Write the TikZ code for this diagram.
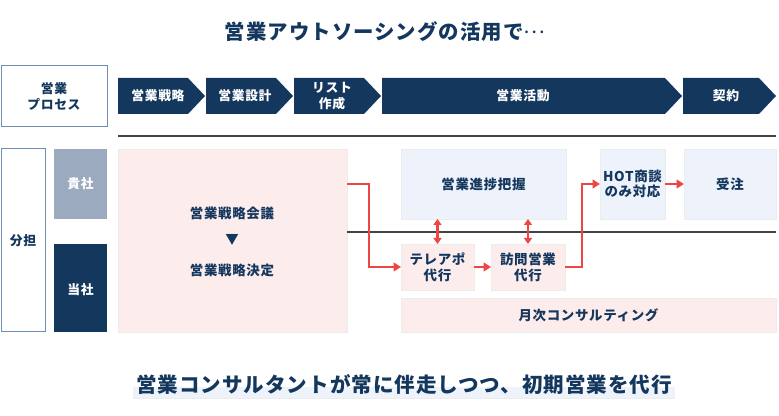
\documentclass[tikz,border=0pt]{standalone}
\usepackage{fontspec}
\setmainfont{Noto Sans CJK JP}[LetterSpace=5]
\usetikzlibrary{arrows.meta}
\definecolor{navy}{HTML}{14375E}
\definecolor{slate}{HTML}{9BAABF}
\definecolor{edgeblue}{HTML}{6F8FB0}
\definecolor{pinkbox}{HTML}{FDECEC}
\definecolor{bluebox}{HTML}{EDF2FB}
\definecolor{redline}{HTML}{EE4545}
\definecolor{rulegrey}{HTML}{444444}
\definecolor{softedge}{HTML}{ECECEC}
\newcommand\boxat[7]{\node[#1,minimum width=#4*0.75pt-#2*0.75pt,minimum height=#5*0.75pt-#3*0.75pt] (#6) at ({(#2+#4)/2},{(#3+#5)/2}) {#7};}
\newcommand\chev[5]{\fill[navy] (#2,78) -- ({#3-17},78) -- (#3,96) -- ({#3-17},114) -- (#2,114) -- cycle;
  \node[chevtext] (#1) at (#4,96) {#5};}
\tikzset{
  base/.style={inner sep=0pt,outer sep=0pt,align=center,font=\bfseries\fontsize{9.6}{11.6}\selectfont,text=navy},
  larger/.style={base,font=\bfseries\fontsize{10.1}{11.8}\selectfont},
  outlined/.style={base,draw=edgeblue,line width=0.75pt,fill=white},
  chevtext/.style={base,text=white},
  slatebox/.style={base,fill=slate,text=white},
  navybox/.style={base,fill=navy,text=white},
  pinkfill/.style={larger,fill=pinkbox,draw=softedge,line width=0.3pt},
  bluefill/.style={larger,fill=bluebox,draw=softedge,line width=0.3pt},
  headline/.style={inner sep=0pt,font=\bfseries\fontsize{15.3}{18}\selectfont,text=navy},
  rulerline/.style={draw=rulegrey,line width=1pt},
  flow/.style={draw=redline,line width=1.9pt,-{Triangle[length=5.5pt,width=6.5pt]}},
  bothways/.style={draw=redline,line width=1.6pt,{Triangle[length=4.5pt,width=6pt]}-{Triangle[length=4.5pt,width=6pt]}},
}
\begin{document}
\begin{tikzpicture}[x=0.75pt,y=-0.75pt]
\useasboundingbox (0,0) rectangle (779,416);
\node[headline] (title) at (385,32) {営業アウトソーシングの活用で\raisebox{0.32em}{\mdseries …}};
\boxat{outlined}{1}{66}{107}{127}{process}{営業\\プロセス}
\chev{c1}{118}{205}{158}{営業戦略}
\chev{c2}{206}{293}{245}{営業設計}
\chev{c3}{294}{381}{332}{リスト\\作成}
\chev{c4}{382}{682}{523}{営業活動}
\chev{c5}{683}{776}{726}{契約}
\coordinate (r1a) at (118,136);
\coordinate (r1b) at (776,136);
\draw[rulerline] (r1a) -- (r1b);
\boxat{outlined}{1}{149}{45}{332}{share}{分担}
\boxat{slatebox}{54}{149}{107}{219}{you}{貴社}
\boxat{navybox}{54}{244}{107}{332}{us}{\raisebox{-5pt}[0pt][0pt]{当社}}
\boxat{pinkfill}{118}{149}{347}{332}{plan}{}
\node[larger] (meet) at (232,213) {営業戦略会議};
\node[larger] (tri) at (232,240) {▼};
\node[larger] (decide) at (232,270) {営業戦略決定};
\coordinate (r2a) at (347,232);
\coordinate (r2b) at (776,232);
\draw[rulerline] (r2a) -- (r2b);
\boxat{bluefill}{401}{149}{566}{219}{prog}{営業進捗把握}
\boxat{bluefill}{600}{149}{665}{219}{hot}{HOT商談\\のみ対応}
\boxat{bluefill}{684}{149}{776}{219}{order}{受注}
\boxat{pinkfill}{401}{244}{474}{290}{tele}{テレアポ\\代行}
\boxat{pinkfill}{491}{244}{565}{290}{visit}{訪問営業\\代行}
\boxat{pinkfill}{401}{298}{776}{332}{monthly}{月次コンサルティング}
\draw[flow] (plan.east |- hot.west) -- ++(22,0) |- (tele.west);
\draw[flow] (tele) -- (visit);
\draw[flow] (visit.east) -- ++(17,0) |- (hot.west);
\draw[flow] (hot) -- (order);
\draw[bothways] (prog.south -| tele) -- (tele.north);
\draw[bothways] (prog.south -| visit) -- (visit.north);
\fill[bluebox] (133,387) rectangle (675,398);
\draw[softedge,line width=0.6pt] (133,398) -- (675,398);
\node[headline,font=\bfseries\fontsize{15.4}{18}\selectfont] (bottom) at (404,385) {営業コンサルタントが常に伴走しつつ、初期営業を代行};
\end{tikzpicture}
\end{document}
